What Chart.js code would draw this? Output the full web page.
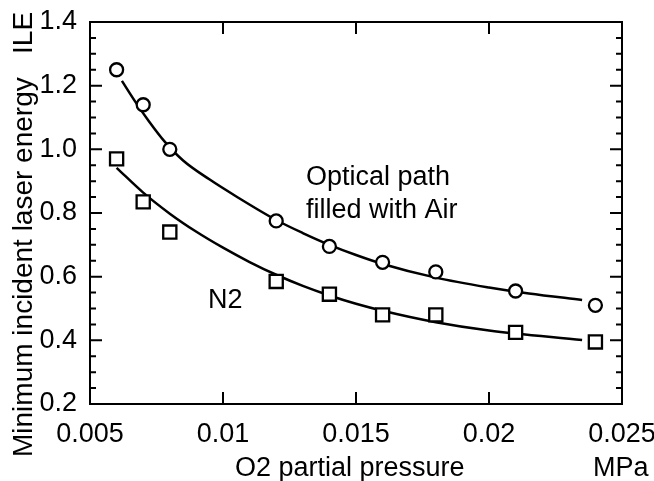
<!DOCTYPE html>
<html>
<head>
<meta charset="utf-8">
<script src="https://cdn.jsdelivr.net/npm/chart.js@4.4.1/dist/chart.umd.min.js"></script>
<style>
html,body{margin:0;padding:0;background:#ffffff;}
#wrap{width:654px;height:481px;}
</style>
</head>
<body>
<div id="wrap"><canvas id="c" width="654" height="481"></canvas></div>
<script>
// ---- data ----
const pressure = [0.006, 0.007, 0.008, 0.012, 0.014, 0.016, 0.018, 0.021, 0.024];
const airILE   = [1.25, 1.14, 1.00, 0.775, 0.695, 0.645, 0.615, 0.555, 0.51];
const n2ILE    = [0.97, 0.835, 0.74, 0.585, 0.545, 0.48, 0.48, 0.425, 0.395];

// fitted curves
const airFitX = [0.0062, 0.0067, 0.0072, 0.0078, 0.0085, 0.0095, 0.0105, 0.012, 0.013, 0.014, 0.015, 0.016, 0.018, 0.020, 0.0215, 0.0235];
const airFitY = [1.215, 1.15, 1.09, 1.025, 0.965, 0.905, 0.852, 0.778, 0.737, 0.700, 0.668, 0.640, 0.597, 0.566, 0.547, 0.527];
const n2FitX  = [0.006, 0.007, 0.008, 0.009, 0.010, 0.011, 0.012, 0.013, 0.014, 0.015, 0.016, 0.018, 0.020, 0.0235];
const n2FitY  = [0.942, 0.864, 0.798, 0.741, 0.691, 0.646, 0.606, 0.571, 0.541, 0.515, 0.493, 0.457, 0.431, 0.401];

const xTickValues = [0.005, 0.01, 0.015, 0.02, 0.025];
const xTickLabels = ['0.005', '0.01', '0.015', '0.02', '0.025'];
const xInnerTicks = [0.01, 0.015, 0.02];
const yTickValues = [0.2, 0.4, 0.6, 0.8, 1.0, 1.2, 1.4];
const yTickLabels = ['0.2', '0.4', '0.6', '0.8', '1.0', '1.2', '1.4'];
const yMinorTicks = [0.25, 0.3, 0.35, 0.45, 0.5, 0.55, 0.65, 0.7, 0.75, 0.85, 0.9, 0.95, 1.05, 1.1, 1.15, 1.25, 1.3, 1.35];

const xTitle = 'O2 partial pressure';
const xUnit = 'MPa';
const yTitle = 'Minimum incident laser energy   ILE';
const noteAir1 = 'Optical path';
const noteAir2 = 'filled with Air';
const noteN2 = 'N2';

const FONT = '"Liberation Sans", Arial, Helvetica, sans-serif';

const toXY = (xs, ys) => xs.map((x, i) => ({x: x, y: ys[i]}));

const frame = {
  id: 'frame',
  afterDatasetsDraw(chart) {
    const ctx = chart.ctx;
    const a = chart.chartArea;
    const xs = chart.scales.x, ys = chart.scales.y;
    ctx.save();
    ctx.strokeStyle = '#000';
    ctx.lineWidth = 2;
    ctx.strokeRect(a.left, a.top, a.right - a.left, a.bottom - a.top);
    ctx.beginPath();
    yTickValues.forEach(v => {
      const p = ys.getPixelForValue(v);
      ctx.moveTo(a.left, p); ctx.lineTo(a.left + 12, p);
      ctx.moveTo(a.right, p); ctx.lineTo(a.right - 12, p);
    });
    yMinorTicks.forEach(v => {
      const p = ys.getPixelForValue(v);
      ctx.moveTo(a.left, p); ctx.lineTo(a.left + 6, p);
      ctx.moveTo(a.right, p); ctx.lineTo(a.right - 6, p);
    });
    xInnerTicks.forEach(v => {
      const p = xs.getPixelForValue(v);
      ctx.moveTo(p, a.bottom); ctx.lineTo(p, a.bottom - 12);
      ctx.moveTo(p, a.top); ctx.lineTo(p, a.top + 12);
    });
    ctx.stroke();
    ctx.restore();
  },
  afterDraw(chart) {
    const ctx = chart.ctx;
    ctx.save();
    ctx.fillStyle = '#000';
    ctx.textBaseline = 'alphabetic';
    ctx.textAlign = 'left';
    ctx.font = '27px ' + FONT;
    ctx.fillText(noteAir1, 306, 185);
    ctx.fillText(noteAir2, 306, 218);
    ctx.fillText(noteN2, 208, 308);
    ctx.fillText(xTitle, 235, 476);
    ctx.fillText(xUnit, 593, 476);
    ctx.translate(32, 457);
    ctx.rotate(-Math.PI / 2);
    ctx.font = '28px ' + FONT;
    ctx.fillText(yTitle, 0, 0);
    ctx.restore();
  }
};

new Chart(document.getElementById('c'), {
  type: 'scatter',
  data: {
    datasets: [
      {
        label: 'Air fit', data: toXY(airFitX, airFitY), showLine: true,
        borderColor: '#000', borderWidth: 2.5, pointRadius: 0, fill: false,
        cubicInterpolationMode: 'monotone', order: 3
      },
      {
        label: 'N2 fit', data: toXY(n2FitX, n2FitY), showLine: true,
        borderColor: '#000', borderWidth: 2.5, pointRadius: 0, fill: false,
        cubicInterpolationMode: 'monotone', order: 3
      },
      {
        label: 'Air', data: toXY(pressure, airILE), showLine: false,
        pointStyle: 'circle', pointRadius: 6.5, pointBorderWidth: 2.3,
        pointBackgroundColor: '#fff', pointBorderColor: '#000', order: 1
      },
      {
        label: 'N2', data: toXY(pressure, n2ILE), showLine: false,
        pointStyle: 'rect', pointRadius: 9.3, pointBorderWidth: 2.3,
        pointBackgroundColor: '#fff', pointBorderColor: '#000', order: 1
      }
    ]
  },
  options: {
    responsive: false,
    animation: false,
    devicePixelRatio: 1,
    layout: {padding: {top: 22, right: 32, left: 0, bottom: 0}},
    plugins: {legend: {display: false}, tooltip: {enabled: false}},
    scales: {
      x: {
        type: 'linear', min: 0.005, max: 0.025,
        grid: {display: false, drawTicks: false, tickLength: 0},
        border: {display: false},
        afterBuildTicks: s => { s.ticks = xTickValues.map(v => ({value: v})); },
        afterFit: s => { s.height = 77; s.paddingLeft = 0; s.paddingRight = 0; },
        ticks: {
          color: '#000', font: {family: FONT, size: 27}, padding: 14,
          maxRotation: 0, autoSkip: false,
          callback: (v, i) => xTickLabels[i]
        }
      },
      y: {
        type: 'linear', min: 0.2, max: 1.4,
        grid: {display: false, drawTicks: false, tickLength: 0},
        border: {display: false},
        afterBuildTicks: s => { s.ticks = yTickValues.map(v => ({value: v})); },
        afterFit: s => { s.width = 90; s.paddingTop = 0; s.paddingBottom = 0; },
        ticks: {
          color: '#000', font: {family: FONT, size: 27}, padding: 13,
          autoSkip: false,
          callback: (v, i) => yTickLabels[i]
        }
      }
    }
  },
  plugins: [frame]
});
</script>
</body>
</html>
